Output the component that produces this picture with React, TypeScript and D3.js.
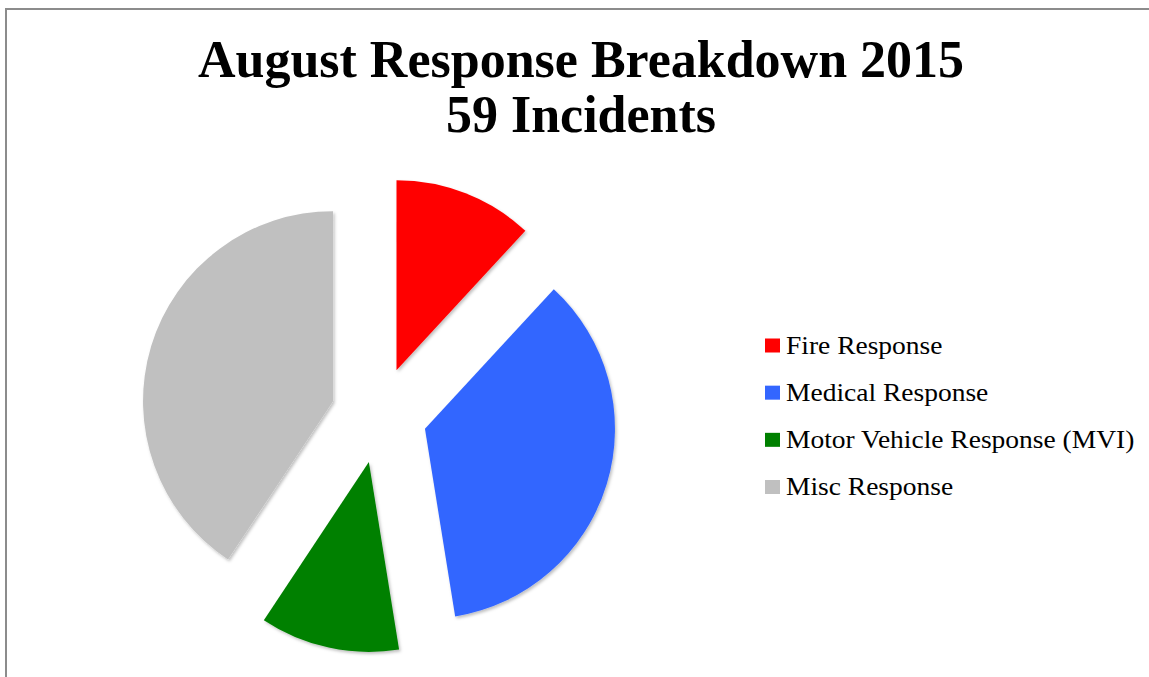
import React, { useEffect, useRef } from 'react'
import * as d3 from 'd3'

const categories = [
  'Fire Response',
  'Medical Response',
  'Motor Vehicle Response (MVI)',
  'Misc Response',
]
const counts = [7, 21, 7, 24]
const colors = ['#ff0000', '#3366ff', '#008000', '#c0c0c0']
const titleLines = ['August Response Breakdown 2015', '59 Incidents']

export default function App(): React.ReactElement {
  const chartRef = useRef<HTMLDivElement>(null)

  useEffect(() => {
    const width = 1149
    const height = 677
    const cx = 379
    const cy = 415
    const radius = 190
    const explode = 48

    d3.select(chartRef.current).select('svg').remove()

    const svg = d3
      .select(chartRef.current)
      .append('svg')
      .attr('width', width)
      .attr('height', height)
      .attr('style', 'position: fixed; left: 0; top: 0; background: #fff;')

    const defs = svg.append('defs')
    defs
      .append('filter')
      .attr('id', 'shadow')
      .attr('x', '-10%')
      .attr('y', '-10%')
      .attr('width', '130%')
      .attr('height', '130%')
      .append('feDropShadow')
      .attr('dx', 1.5)
      .attr('dy', 2)
      .attr('stdDeviation', 1.5)
      .attr('flood-color', '#000')
      .attr('flood-opacity', 0.25)

    // chart frame
    svg
      .append('rect')
      .attr('x', 6)
      .attr('y', 9)
      .attr('width', 1200)
      .attr('height', 700)
      .attr('fill', 'none')
      .attr('stroke', '#8c8c8c')
      .attr('stroke-width', 2)

    // title
    svg
      .append('g')
      .attr('font-family', '"Liberation Serif", serif')
      .attr('font-weight', 'bold')
      .attr('font-size', 52)
      .attr('text-anchor', 'middle')
      .attr('fill', '#000')
      .selectAll('text')
      .data(titleLines)
      .join('text')
      .attr('x', 581)
      .attr('y', (_, i) => 77 + i * 55)
      .text((d) => d)

    const pie = d3
      .pie<number>()
      .sort(null)
      .value((d) => d)
    const arcs = pie(counts)
    const arc = d3
      .arc<d3.PieArcDatum<number>>()
      .innerRadius(0)
      .outerRadius(radius)

    svg
      .append('g')
      .attr('transform', `translate(${cx},${cy})`)
      .selectAll('path')
      .data(arcs)
      .join('path')
      .attr('transform', (d) => {
        const mid = (d.startAngle + d.endAngle) / 2
        return `translate(${explode * Math.sin(mid)},${-explode * Math.cos(mid)})`
      })
      .attr('d', arc)
      .attr('fill', (_, i) => colors[i])
      .attr('filter', 'url(#shadow)')

    // legend
    const y = d3
      .scalePoint<string>()
      .domain(categories)
      .range([345.5, 487])

    const legend = svg
      .append('g')
      .attr('font-family', '"Liberation Serif", serif')
      .attr('font-size', 25)
      .selectAll('g')
      .data(categories)
      .join('g')
      .attr('transform', (d) => `translate(765,${y(d)})`)

    legend
      .append('rect')
      .attr('x', 0)
      .attr('y', -7)
      .attr('width', 15)
      .attr('height', 14)
      .attr('fill', (_, i) => colors[i])

    legend
      .append('text')
      .attr('transform', 'translate(21,8) scale(1.1,1)')
      .attr('fill', '#000')
      .text((d) => d)
  }, [])

  return <div ref={chartRef}></div>
}
